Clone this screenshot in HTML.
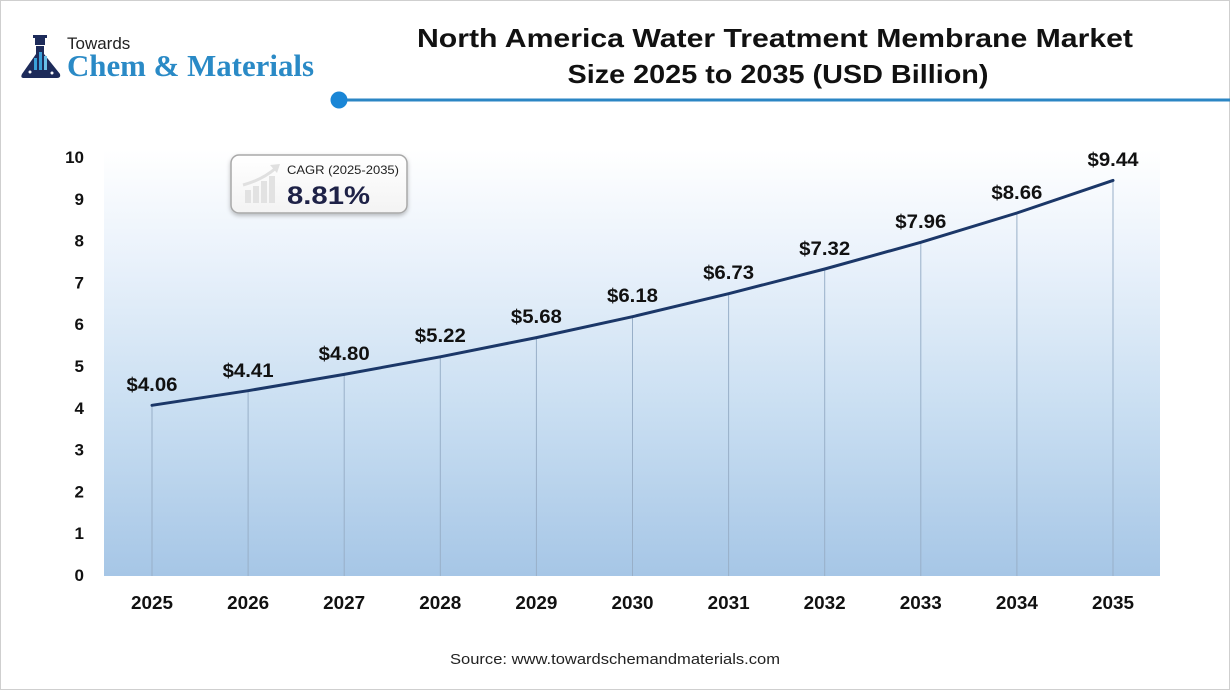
<!DOCTYPE html>
<html><head><meta charset="utf-8"><style>
html,body{margin:0;padding:0;background:#fff;}
svg{display:block;}
</style></head><body>
<svg width="1230" height="691" viewBox="0 0 1230 691" xmlns="http://www.w3.org/2000/svg" font-family="'Liberation Sans', sans-serif">
<defs>
<linearGradient id="bg" x1="0" y1="0" x2="0" y2="1">
<stop offset="0" stop-color="#ffffff"/>
<stop offset="0.25" stop-color="#eaf2fb"/>
<stop offset="0.6" stop-color="#cadff2"/>
<stop offset="1" stop-color="#a6c6e6"/>
</linearGradient>
<linearGradient id="boxg" x1="0" y1="0" x2="0" y2="1">
<stop offset="0" stop-color="#ffffff"/>
<stop offset="1" stop-color="#f3f3f3"/>
</linearGradient>
<filter id="sh" x="-10%" y="-20%" width="120%" height="150%">
<feDropShadow dx="0" dy="2" stdDeviation="2" flood-color="#000" flood-opacity="0.25"/>
</filter>
</defs>
<rect x="0.5" y="0.5" width="1229" height="689" fill="#fff" stroke="#cfcfcf"/>

<!-- logo -->
<g>
<rect x="35" y="36" width="10" height="9" fill="#1d2b5a"/>
<rect x="33" y="35" width="14" height="3" fill="#1d2b5a"/>
<path d="M36 46 L44 46 L44 54 L60 74 Q61 78 57 78 L24 78 Q20 78 22 74 L36 54 Z" fill="#1d2b5a"/>
<rect x="34" y="58" width="3" height="12" fill="#3aa0d8"/>
<rect x="39" y="52" width="3" height="18" fill="#3aa0d8"/>
<rect x="44" y="56" width="3" height="14" fill="#6cc0ea"/>
<circle cx="30" cy="72" r="1.5" fill="#fff"/>
<circle cx="52" cy="73" r="1.5" fill="#fff"/>
<text x="67" y="49" font-size="17" fill="#222">Towards</text>
<text x="67" y="76" font-family="'Liberation Serif', serif" font-weight="bold" font-size="31" fill="#2a8ac6" textLength="247" lengthAdjust="spacingAndGlyphs">Chem &amp; Materials</text>
</g>

<!-- title -->
<text x="775" y="47" text-anchor="middle" font-weight="bold" font-size="26" fill="#111" textLength="716" lengthAdjust="spacingAndGlyphs">North America Water Treatment Membrane Market</text>
<text x="778" y="83" text-anchor="middle" font-weight="bold" font-size="26" fill="#111" textLength="421" lengthAdjust="spacingAndGlyphs">Size 2025 to 2035 (USD Billion)</text>

<!-- separator -->
<line x1="339" y1="100" x2="1230" y2="100" stroke="#2b86c4" stroke-width="3"/>
<circle cx="339" cy="100" r="8.5" fill="#1a86d6"/>

<!-- plot area -->
<rect x="104" y="150" width="1056" height="426" fill="url(#bg)"/>

<!-- drop lines -->
<g stroke="#98afc8" stroke-width="1">
<line x1="152" y1="405.3" x2="152" y2="576"/>
<line x1="248.1" y1="390.7" x2="248.1" y2="576"/>
<line x1="344.2" y1="374.4" x2="344.2" y2="576"/>
<line x1="440.3" y1="356.8" x2="440.3" y2="576"/>
<line x1="536.4" y1="337.6" x2="536.4" y2="576"/>
<line x1="632.5" y1="316.7" x2="632.5" y2="576"/>
<line x1="728.6" y1="293.7" x2="728.6" y2="576"/>
<line x1="824.7" y1="269.0" x2="824.7" y2="576"/>
<line x1="920.8" y1="242.3" x2="920.8" y2="576"/>
<line x1="1016.9" y1="213.0" x2="1016.9" y2="576"/>
<line x1="1113" y1="180.4" x2="1113" y2="576"/>
</g>

<!-- series line -->
<polyline fill="none" stroke="#1b3768" stroke-width="3" stroke-linejoin="round" stroke-linecap="round"
points="152,405.3 248.1,390.7 344.2,374.4 440.3,356.8 536.4,337.6 632.5,316.7 728.6,293.7 824.7,269.0 920.8,242.3 1016.9,213.0 1113,180.4"/>

<!-- data labels -->
<g font-weight="bold" font-size="19" fill="#111" text-anchor="middle">
<text x="152" y="391" textLength="51" lengthAdjust="spacingAndGlyphs">$4.06</text>
<text x="248.1" y="377" textLength="51" lengthAdjust="spacingAndGlyphs">$4.41</text>
<text x="344.2" y="360" textLength="51" lengthAdjust="spacingAndGlyphs">$4.80</text>
<text x="440.3" y="342" textLength="51" lengthAdjust="spacingAndGlyphs">$5.22</text>
<text x="536.4" y="323" textLength="51" lengthAdjust="spacingAndGlyphs">$5.68</text>
<text x="632.5" y="302" textLength="51" lengthAdjust="spacingAndGlyphs">$6.18</text>
<text x="728.6" y="279" textLength="51" lengthAdjust="spacingAndGlyphs">$6.73</text>
<text x="824.7" y="255" textLength="51" lengthAdjust="spacingAndGlyphs">$7.32</text>
<text x="920.8" y="228" textLength="51" lengthAdjust="spacingAndGlyphs">$7.96</text>
<text x="1016.9" y="199" textLength="51" lengthAdjust="spacingAndGlyphs">$8.66</text>
<text x="1113" y="166" textLength="51" lengthAdjust="spacingAndGlyphs">$9.44</text>
</g>

<!-- y axis labels -->
<g font-weight="bold" font-size="17" fill="#111" text-anchor="end">
<text x="84" y="581">0</text>
<text x="84" y="539.2">1</text>
<text x="84" y="497.4">2</text>
<text x="84" y="455.6">3</text>
<text x="84" y="413.8">4</text>
<text x="84" y="372">5</text>
<text x="84" y="330.2">6</text>
<text x="84" y="288.4">7</text>
<text x="84" y="246.6">8</text>
<text x="84" y="204.8">9</text>
<text x="84" y="163">10</text>
</g>

<!-- x axis labels -->
<g font-weight="bold" font-size="18" fill="#111" text-anchor="middle">
<text x="152" y="609" textLength="42" lengthAdjust="spacingAndGlyphs">2025</text>
<text x="248.1" y="609" textLength="42" lengthAdjust="spacingAndGlyphs">2026</text>
<text x="344.2" y="609" textLength="42" lengthAdjust="spacingAndGlyphs">2027</text>
<text x="440.3" y="609" textLength="42" lengthAdjust="spacingAndGlyphs">2028</text>
<text x="536.4" y="609" textLength="42" lengthAdjust="spacingAndGlyphs">2029</text>
<text x="632.5" y="609" textLength="42" lengthAdjust="spacingAndGlyphs">2030</text>
<text x="728.6" y="609" textLength="42" lengthAdjust="spacingAndGlyphs">2031</text>
<text x="824.7" y="609" textLength="42" lengthAdjust="spacingAndGlyphs">2032</text>
<text x="920.8" y="609" textLength="42" lengthAdjust="spacingAndGlyphs">2033</text>
<text x="1016.9" y="609" textLength="42" lengthAdjust="spacingAndGlyphs">2034</text>
<text x="1113" y="609" textLength="42" lengthAdjust="spacingAndGlyphs">2035</text>
</g>

<!-- CAGR box -->
<g filter="url(#sh)">
<rect x="231" y="155" width="176" height="58" rx="8" fill="url(#boxg)" stroke="#a8a8a8" stroke-width="1.5"/>
</g>
<g fill="#e2e2e2">
<rect x="245" y="190" width="6" height="13"/>
<rect x="253" y="186" width="6" height="17"/>
<rect x="261" y="181" width="6" height="22"/>
<rect x="269" y="176" width="6" height="27"/>
</g>
<path d="M243 185 Q262 180 276 168" fill="none" stroke="#e0e0e0" stroke-width="3"/>
<path d="M270 165 L280 164 L277 173 Z" fill="#e0e0e0"/>
<text x="287" y="174" font-size="12" fill="#222" textLength="112" lengthAdjust="spacingAndGlyphs">CAGR (2025-2035)</text>
<text x="287" y="204" font-weight="bold" font-size="25" fill="#1e2247" textLength="83" lengthAdjust="spacingAndGlyphs">8.81%</text>

<!-- source -->
<text x="615" y="664" text-anchor="middle" font-size="15" fill="#222" textLength="330" lengthAdjust="spacingAndGlyphs">Source: www.towardschemandmaterials.com</text>
</svg>
</body></html>
